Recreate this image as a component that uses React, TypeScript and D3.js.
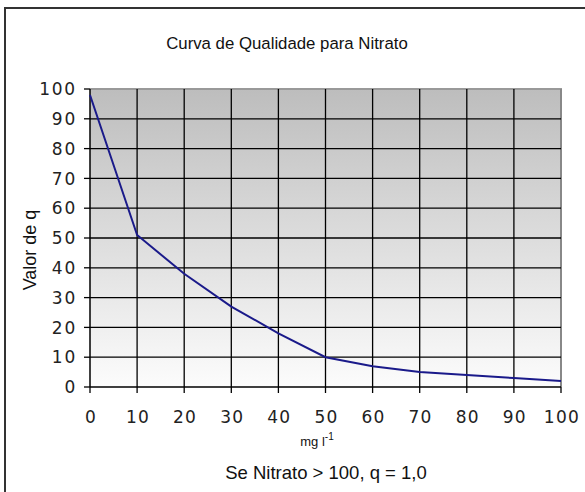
import React from "react";
import * as d3 from "d3";

const nitrate = [0, 10, 20, 30, 40, 50, 60, 70, 80, 90, 100];
const qValues = [98, 51, 38, 27, 18, 10, 7, 5, 4, 3, 2];
const xTicks = [0, 10, 20, 30, 40, 50, 60, 70, 80, 90, 100];
const yTicks = [0, 10, 20, 30, 40, 50, 60, 70, 80, 90, 100];

const W = 585;
const H = 492;
const plot = { left: 90, right: 561, top: 89, bottom: 387 };

export default function App() {
  const x = d3.scaleLinear().domain([0, 100]).range([plot.left, plot.right]);
  const y = d3.scaleLinear().domain([0, 100]).range([plot.bottom, plot.top]);
  const line = d3
    .line<number>()
    .x((_, i) => x(nitrate[i]))
    .y((d) => y(d));
  const tickFont = "DejaVu Sans, Verdana, sans-serif";
  const textFont = "Liberation Sans, Arial, sans-serif";
  return (
    <svg
      width={W}
      height={H}
      style={{ position: "absolute", left: 0, top: 0, background: "#fff" }}
    >
      <defs>
        <linearGradient id="bg" x1="0" y1="0" x2="0" y2="1">
          <stop offset="0%" stopColor="#bdbdbd" />
          <stop offset="100%" stopColor="#fcfcfc" />
        </linearGradient>
      </defs>
      {/* outer frame (cropped) */}
      <line x1={4} x2={W} y1={8} y2={8} stroke="#333" strokeWidth={2} />
      <line x1={5} x2={5} y1={7} y2={H} stroke="#333" strokeWidth={2} />

      <text
        x={287}
        y={49}
        textAnchor="middle"
        fontFamily={textFont}
        fontSize={16.8}
        fill="#111"
      >
        Curva de Qualidade para Nitrato
      </text>

      <rect
        x={plot.left}
        y={plot.top}
        width={plot.right - plot.left}
        height={plot.bottom - plot.top}
        fill="url(#bg)"
      />
      {/* plot border top/right */}
      <line x1={plot.left} x2={plot.right + 1} y1={plot.top} y2={plot.top} stroke="#999" strokeWidth={2} />
      <line x1={plot.right} x2={plot.right} y1={plot.top} y2={plot.bottom} stroke="#888" strokeWidth={2} />

      {/* grid */}
      {xTicks.slice(1, -1).map((t) => (
        <line key={"gx" + t} x1={x(t)} x2={x(t)} y1={plot.top} y2={plot.bottom} stroke="#000" strokeWidth={1.3} />
      ))}
      {yTicks.slice(1, -1).map((t) => (
        <line key={"gy" + t} x1={plot.left} x2={plot.right} y1={y(t)} y2={y(t)} stroke="#000" strokeWidth={1.3} />
      ))}

      {/* axes */}
      <line x1={plot.left} x2={plot.left} y1={plot.top} y2={plot.bottom} stroke="#000" strokeWidth={1.5} />
      <line x1={plot.left} x2={plot.right} y1={plot.bottom} y2={plot.bottom} stroke="#000" strokeWidth={1.5} />

      {yTicks.map((t) => (
        <g key={"yt" + t}>
          <line x1={plot.left - 6} x2={plot.left} y1={y(t)} y2={y(t)} stroke="#000" strokeWidth={1.3} />
          <text
            x={77}
            y={y(t)}
            dy="0.36em"
            textAnchor="end"
            fontFamily={tickFont}
            fontSize={17}
            letterSpacing={1.8}
            fill="#222"
          >
            {t}
          </text>
        </g>
      ))}
      {xTicks.map((t) => (
        <g key={"xt" + t}>
          <line x1={x(t)} x2={x(t)} y1={plot.bottom} y2={plot.bottom + 6} stroke="#000" strokeWidth={1.3} />
          <text
            x={x(t) + 0.9}
            y={423}
            textAnchor="middle"
            fontFamily={tickFont}
            fontSize={17}
            letterSpacing={1.2}
            fill="#222"
          >
            {t}
          </text>
        </g>
      ))}

      <path d={line(qValues) || ""} fill="none" stroke="#1a1a8a" strokeWidth={2} />

      <text
        transform={`translate(36,250) rotate(-90)`}
        textAnchor="middle"
        fontFamily={textFont}
        fontSize={18}
        fill="#111"
      >
        Valor de q
      </text>

      <text x={317} y={446} textAnchor="middle" fontFamily={textFont} fontSize={13} fill="#111">
        mg l
        <tspan dy={-6} fontSize={10}>-1</tspan>
      </text>

      <text x={326} y={479} textAnchor="middle" fontFamily={textFont} fontSize={18.5} fill="#111">
        {"Se Nitrato > 100, q = 1,0"}
      </text>
    </svg>
  );
}
